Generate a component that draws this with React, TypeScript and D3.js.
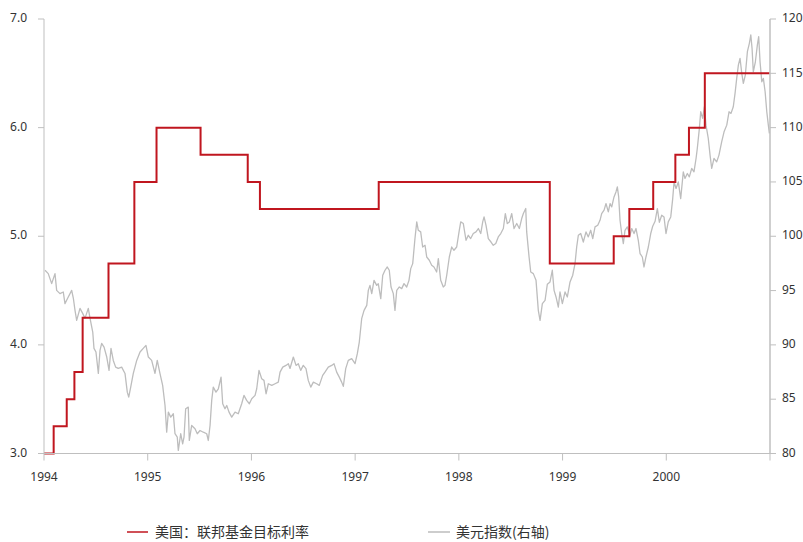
import React from "react";
import * as d3 from "d3";

const fedDates = ["1994-01-01","1994-02-04","1994-03-22","1994-04-18","1994-05-17","1994-08-16","1994-11-15","1995-02-01","1995-07-06","1995-12-19","1996-01-31","1997-03-25","1998-11-17","1999-06-30","1999-08-24","1999-11-16","2000-02-02","2000-03-21","2000-05-16","2000-12-31"];
const fedRates = [3.0,3.25,3.5,3.75,4.25,4.75,5.5,6.0,5.75,5.5,5.25,5.5,4.75,5.0,5.25,5.5,5.75,6.0,6.5,6.5];

const dxyYears = [
1994.010,1994.041,1994.074,1994.106,1994.122,1994.154,1994.186,1994.202,1994.234,1994.267,
1994.283,1994.299,1994.315,1994.347,1994.373,1994.395,1994.427,1994.444,1994.470,1994.482,
1994.501,1994.524,1994.540,1994.556,1994.579,1994.605,1994.627,1994.646,1994.668,1994.691,
1994.716,1994.749,1994.781,1994.803,1994.817,1994.836,1994.861,1994.894,1994.926,1994.957,
1994.983,1995.006,1995.038,1995.070,1995.092,1995.118,1995.144,1995.167,1995.183,1995.199,
1995.222,1995.247,1995.263,1995.285,1995.295,1995.318,1995.337,1995.350,1995.366,1995.391,
1995.401,1995.424,1995.456,1995.478,1995.504,1995.536,1995.569,1995.584,1995.601,1995.617,
1995.632,1995.658,1995.681,1995.707,1995.723,1995.745,1995.762,1995.784,1995.810,1995.842,
1995.873,1995.906,1995.928,1995.954,1995.980,1996.003,1996.035,1996.051,1996.073,1996.099,
1996.121,1996.141,1996.163,1996.196,1996.228,1996.259,1996.276,1996.302,1996.333,1996.356,
1996.372,1996.404,1996.430,1996.452,1996.475,1996.500,1996.526,1996.548,1996.572,1996.597,
1996.629,1996.654,1996.687,1996.709,1996.741,1996.774,1996.796,1996.822,1996.847,1996.870,
1996.886,1996.909,1996.934,1996.967,1996.999,1997.021,1997.040,1997.063,1997.086,1997.112,
1997.127,1997.143,1997.160,1997.182,1997.208,1997.223,1997.247,1997.266,1997.288,1997.310,
1997.329,1997.346,1997.368,1997.384,1997.401,1997.426,1997.449,1997.471,1997.497,1997.519,
1997.536,1997.555,1997.577,1997.594,1997.609,1997.632,1997.651,1997.674,1997.690,1997.715,
1997.738,1997.760,1997.786,1997.802,1997.825,1997.850,1997.866,1997.883,1997.908,1997.931,
1997.953,1997.979,1998.004,1998.018,1998.043,1998.069,1998.091,1998.114,1998.139,1998.165,
1998.188,1998.211,1998.230,1998.243,1998.262,1998.284,1998.310,1998.332,1998.356,1998.380,
1998.404,1998.429,1998.448,1998.467,1998.487,1998.510,1998.532,1998.558,1998.583,1998.606,
1998.622,1998.645,1998.654,1998.677,1998.693,1998.718,1998.744,1998.766,1998.783,1998.805,
1998.831,1998.853,1998.879,1998.901,1998.918,1998.937,1998.959,1998.975,1998.998,1999.024,
1999.046,1999.072,1999.098,1999.120,1999.136,1999.152,1999.175,1999.200,1999.226,1999.248,
1999.271,1999.291,1999.313,1999.339,1999.361,1999.377,1999.400,1999.419,1999.441,1999.458,
1999.474,1999.496,1999.515,1999.528,1999.541,1999.554,1999.570,1999.586,1999.602,1999.624,
1999.650,1999.667,1999.689,1999.708,1999.730,1999.747,1999.769,1999.785,1999.804,1999.827,
1999.850,1999.869,1999.892,1999.914,1999.933,1999.956,1999.978,1999.997,2000.019,2000.043,
2000.062,2000.075,2000.094,2000.116,2000.139,2000.164,2000.180,2000.203,2000.222,2000.245,
2000.267,2000.287,2000.299,2000.319,2000.332,2000.351,2000.367,2000.383,2000.405,2000.422,
2000.438,2000.460,2000.486,2000.508,2000.534,2000.557,2000.583,2000.605,2000.624,2000.646,
2000.663,2000.679,2000.695,2000.711,2000.728,2000.743,2000.762,2000.782,2000.801,2000.815,
2000.827,2000.839,2000.859,2000.878,2000.891,2000.904,2000.921,2000.936,2000.953,2000.969,
2000.984,2000.994
];
const dxyValues = [
96.87,96.56,95.64,96.56,95.02,94.72,94.87,93.80,94.41,95.02,
94.29,93.18,92.26,93.36,92.90,92.44,93.36,92.44,91.18,89.68,
89.34,87.37,89.49,90.14,89.80,88.88,87.65,89.68,88.57,87.95,
87.83,87.95,87.37,85.65,85.19,86.11,87.37,88.57,89.34,89.68,
89.95,88.88,88.57,87.37,88.57,87.37,86.27,84.42,81.96,83.81,
83.35,83.66,81.82,81.50,80.28,81.82,80.89,81.50,84.12,84.27,
81.20,82.58,82.28,81.82,82.12,81.96,81.82,81.20,82.58,84.89,
86.11,85.65,85.96,87.03,84.58,84.12,84.42,83.81,83.35,83.81,
83.66,84.58,85.35,84.89,84.58,85.04,85.35,85.96,87.65,86.88,
86.73,85.50,86.42,86.27,86.42,86.57,87.49,87.95,88.11,88.27,
87.83,88.88,88.11,88.27,87.65,88.11,87.81,86.73,86.11,86.57,
86.42,86.27,87.19,87.49,87.95,88.11,88.27,87.49,87.03,86.57,
86.18,87.81,88.57,88.73,88.27,89.19,90.26,92.41,93.18,93.64,
95.02,95.48,94.72,95.94,95.48,95.64,94.26,96.41,96.87,97.17,
96.87,95.33,94.72,93.18,95.02,95.33,95.18,95.64,95.33,95.94,
97.02,97.48,99.82,101.32,100.55,100.40,99.01,99.17,98.09,97.79,
97.33,97.17,96.71,97.94,95.94,95.33,95.48,96.41,98.09,99.01,
98.71,99.01,100.55,101.32,101.17,99.63,100.09,99.79,100.25,100.40,
100.71,100.25,101.32,101.78,101.01,99.79,99.47,99.17,99.33,99.94,
100.25,100.71,102.09,101.17,101.32,102.09,100.71,101.17,100.71,101.63,
102.09,102.55,100.40,98.09,96.71,96.56,95.94,93.18,92.26,93.80,
94.10,95.58,95.79,96.87,95.02,94.41,93.48,94.87,93.80,94.87,
94.41,95.79,96.41,97.48,99.01,100.09,100.25,99.47,100.40,99.94,
100.55,99.79,100.86,101.01,101.47,102.09,102.40,103.01,102.24,103.01,
102.70,103.62,104.08,104.54,103.62,101.47,100.25,99.33,100.55,100.86,
100.09,100.71,100.25,100.71,99.63,98.41,98.09,97.17,98.09,99.01,
100.25,100.92,101.38,102.55,101.29,101.94,101.78,100.25,101.32,101.78,
103.47,105.00,104.40,105.00,103.47,105.93,105.32,105.78,105.47,106.24,
105.93,107.16,108.08,109.93,111.46,110.85,111.92,110.23,109.00,107.47,
106.24,107.16,106.85,107.47,108.69,109.61,110.23,111.46,111.31,111.92,
113.15,114.53,115.76,116.38,115.00,114.07,114.84,116.99,117.76,118.53,
117.30,115.14,116.06,117.60,118.37,116.06,114.22,114.53,113.30,111.46,
110.23,109.47
];

const leftTicks = [3.0, 4.0, 5.0, 6.0, 7.0];
const rightTicks = [80, 85, 90, 95, 100, 105, 110, 115, 120];
const yearTicks = [1994, 1995, 1996, 1997, 1998, 1999, 2000, 2001];
const yearLabels = ["1994", "1995", "1996", "1997", "1998", "1999", "2000"];
const legendLabels = ["美国：联邦基金目标利率", "美元指数(右轴)"];

function toDecimalYear(s: string): number {
  const d = new Date(s + "T00:00:00Z");
  const y = d.getUTCFullYear();
  const start = Date.UTC(y, 0, 1);
  const end = Date.UTC(y + 1, 0, 1);
  return y + (d.getTime() - start) / (end - start);
}

const W = 803, H = 542;
const X0 = 44, X1 = 770, YT = 19, YB = 453.5;
const RED = "#C0161F";
const GRAY = "#BDBDBD";
const AXIS = "#BFBFBF";
const TXT = "#333333";
const FONT = "'Noto Sans', 'DejaVu Sans', sans-serif";
const CJK = "'Noto Sans CJK SC', sans-serif";

export default function App() {
  const x = d3.scaleLinear().domain([1994, 2001]).range([X0, X1]);
  const yL = d3.scaleLinear().domain([3, 7]).range([YB, YT]);
  const yR = d3.scaleLinear().domain([80, 120]).range([YB, YT]);

  const fed = fedDates.map((d, i) => ({ t: toDecimalYear(d), v: fedRates[i] }));
  const fedPath = d3.line<{ t: number; v: number }>()
    .x(d => x(d.t)).y(d => yL(d.v)).curve(d3.curveStepAfter)(fed) || "";

  const dxy = dxyYears.map((t, i) => ({ t, v: dxyValues[i] }));
  const dxyPath = d3.line<{ t: number; v: number }>()
    .x(d => x(d.t)).y(d => yR(d.v))(dxy) || "";

  return (
    <svg width={W} height={H} style={{ position: "absolute", left: 0, top: 0, background: "#fff" }}>
      {/* gray dollar index */}
      <path d={dxyPath} fill="none" stroke={GRAY} strokeWidth={1.3} strokeLinejoin="round" />
      {/* red fed funds */}
      <path d={fedPath} fill="none" stroke={RED} strokeWidth={2} />

      {/* left axis */}
      <line x1={X0} x2={X0} y1={YT} y2={YB} stroke={AXIS} strokeWidth={1} />
      {leftTicks.map(t => (
        <g key={"l" + t}>
          <line x1={X0 - 6} x2={X0} y1={yL(t)} y2={yL(t)} stroke={AXIS} />
          <text x={27} y={yL(t)} textAnchor="end" dominantBaseline="middle" fontSize={12} fontFamily={FONT} fill={TXT}>
            {t.toFixed(1)}
          </text>
        </g>
      ))}

      {/* right axis */}
      <line x1={X1} x2={X1} y1={YT} y2={YB} stroke={AXIS} strokeWidth={1.5} />
      {rightTicks.map(t => (
        <g key={"r" + t}>
          <line x1={X1} x2={X1 + 6} y1={yR(t)} y2={yR(t)} stroke={AXIS} />
          <text x={782} y={yR(t)} textAnchor="start" dominantBaseline="middle" fontSize={12} fontFamily={FONT} fill={TXT}>
            {t}
          </text>
        </g>
      ))}

      {/* bottom axis */}
      <line x1={X0} x2={X1} y1={YB} y2={YB} stroke={AXIS} strokeWidth={1} />
      {yearTicks.map(t => (
        <line key={"x" + t} x1={x(t)} x2={x(t)} y1={YB} y2={YB + 7} stroke={AXIS} />
      ))}
      {yearLabels.map(l => (
        <text key={"xl" + l} x={x(+l)} y={478} textAnchor="middle" dominantBaseline="middle" fontSize={12} fontFamily={FONT} fill={TXT}>
          {l}
        </text>
      ))}

      {/* legend */}
      <line x1={127} x2={148} y1={532} y2={532} stroke={RED} strokeWidth={1.5} />
      <text x={155} y={533} dominantBaseline="middle" fontSize={14} fontFamily={CJK} fill={TXT}>{legendLabels[0]}</text>
      <line x1={428} x2={450} y1={532} y2={532} stroke={GRAY} strokeWidth={1.5} />
      <text x={456} y={533} dominantBaseline="middle" fontSize={14} fontFamily={CJK} fill={TXT}>{legendLabels[1]}</text>
    </svg>
  );
}
